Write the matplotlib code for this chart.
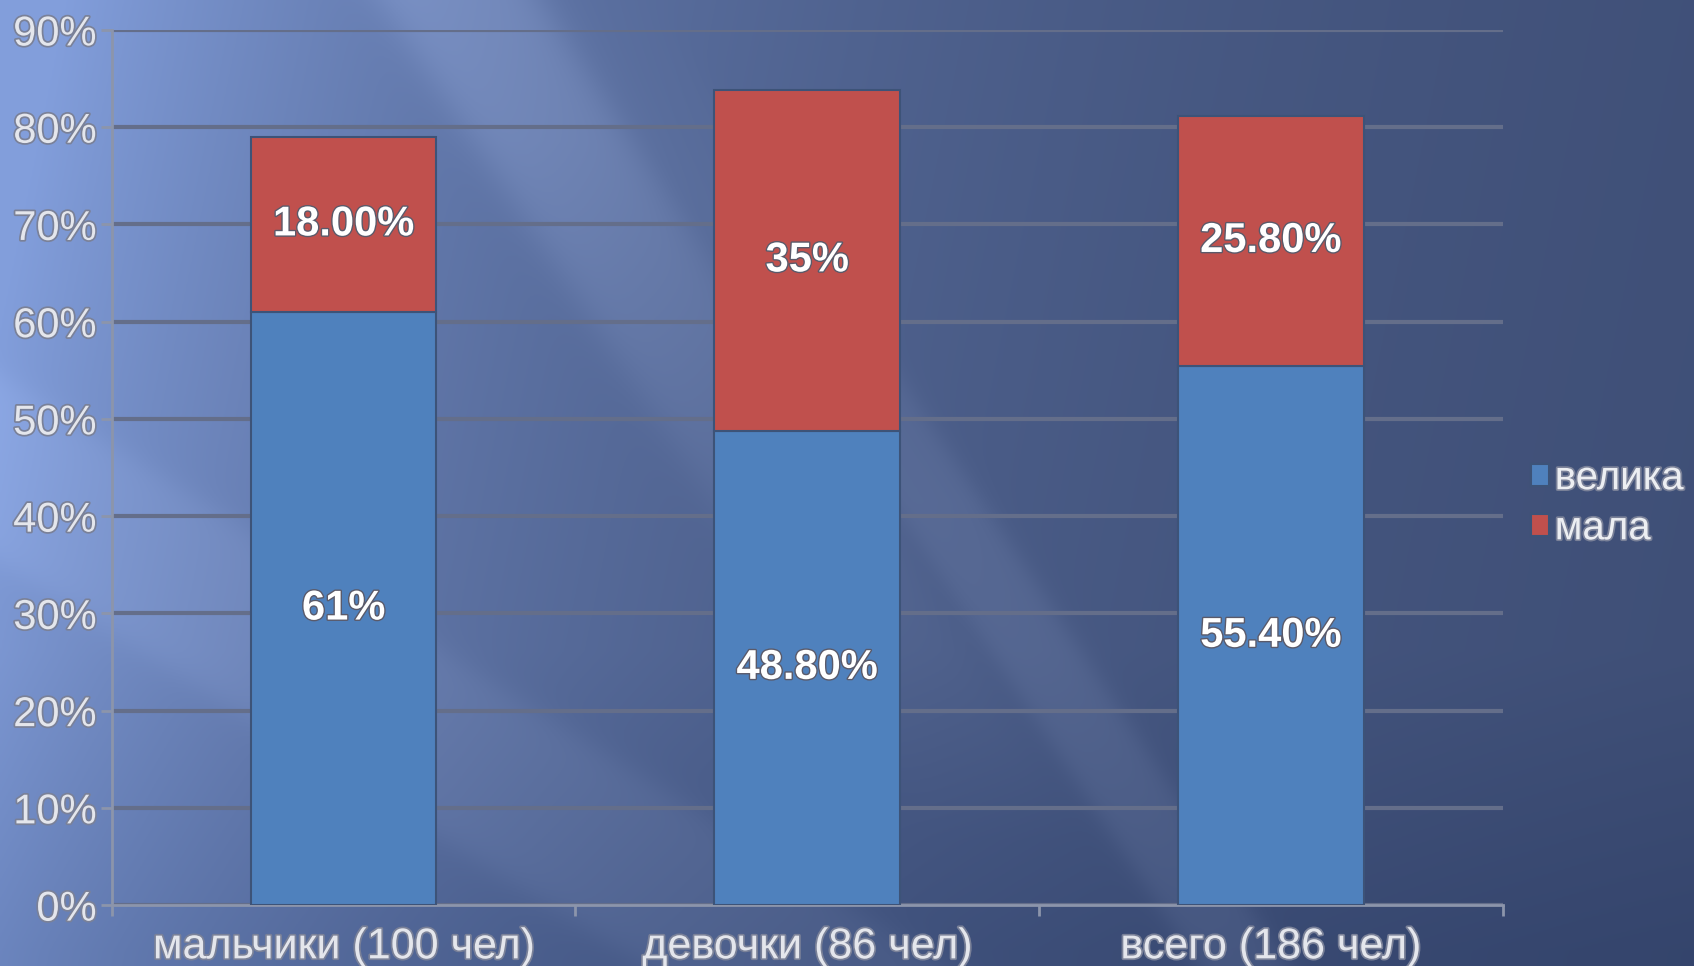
import numpy as np
import matplotlib.pyplot as plt
import matplotlib.patheffects as pe

categories = ['мальчики (100 чел)', 'девочки (86 чел)', 'всего (186 чел)']
velika = [61, 48.8, 55.4]
mala = [18, 35, 25.8]
velika_labels = ['61%', '48.80%', '55.40%']
mala_labels = ['18.00%', '35%', '25.80%']
yticks = list(range(0, 100, 10))

plt.rcParams['font.family'] = ['Liberation Sans', 'DejaVu Sans']

fig = plt.figure(figsize=(16.94, 9.66), dpi=100)

# background: light blue on the left fading to navy, with diagonal light streaks
bg = fig.add_axes([0, 0, 1, 1], zorder=-10)
h, w = 483, 847
yy, xx = np.mgrid[0:h, 0:w] * 2.0
t = np.clip(xx / 1694 * 1.3 + yy / 966 * 0.15 - 0.05, 0, 1.4)
t = 1 - np.exp(-2.0 * t)
light = np.array([0.51, 0.62, 0.86])
dark = np.array([0.23, 0.29, 0.44])
img = light[None, None, :] * (1 - t[..., None]) + dark[None, None, :] * t[..., None]


def band(d, lo, hi, soft):
    return 0.5 * (np.tanh((d - lo) / soft) - np.tanh((d - hi) / soft))


d1 = xx - yy * 0.66
img += 0.08 * band(d1, 380, 540, 25)[..., None] * np.clip(1.2 - yy / 700, 0, 1)[..., None]
img += 0.05 * band(d1, 560, 650, 15)[..., None] * np.clip(yy / 500, 0, 1)[..., None]
d2 = xx - yy * 1.6
img += 0.04 * band(d2, -900, -600, 30)[..., None]
img -= 0.04 * np.clip((yy - 650) / 300, 0, 1)[..., None]
img = np.clip(img, 0, 1)
bg.imshow(img, aspect='auto', extent=[0, 1, 0, 1], origin='upper')
bg.axis('off')

ax = fig.add_axes([0.066, 0.063, 0.821, 0.906])
ax.patch.set_alpha(0)

x = np.arange(len(categories))
b1 = ax.bar(x, velika, width=0.4, color='#4f81bd', edgecolor='#3d5378', linewidth=1.5, label='велика', zorder=3)
b2 = ax.bar(x, mala, width=0.4, bottom=velika, color='#c0504d', edgecolor='#3d5378', linewidth=1.5, label='мала', zorder=3)

ax.set_xlim(-0.5, 2.5)
ax.set_ylim(0, 90)
ax.set_yticks(yticks)
ax.set_yticklabels([f'{v}%' for v in yticks])
ax.set_xticks(x)
ax.set_xticklabels(categories)
ax.set_xticks([-0.5, 0.5, 1.5, 2.5], minor=True)

ax.yaxis.grid(True, color='#646e8a', linewidth=3, zorder=0)
ax.set_axisbelow(True)
for s in ['top', 'right']:
    ax.spines[s].set_visible(False)
for s in ['left', 'bottom']:
    ax.spines[s].set_color('#8c95ab')
    ax.spines[s].set_linewidth(2)

halo = [pe.withStroke(linewidth=2.5, foreground='#7a8198')]
ax.tick_params(axis='y', length=8, width=2, color='#8c95ab', pad=3, labelsize=30, labelcolor='#e4e6ec')
ax.tick_params(axis='x', which='major', length=0, pad=16, labelsize=31, labelcolor='#e4e6ec')
ax.tick_params(axis='x', which='minor', length=8, width=2, color='#8c95ab')
for lab in ax.get_yticklabels() + ax.get_xticklabels():
    lab.set_path_effects(halo)

shadow = [pe.withStroke(linewidth=2, foreground='#5a5a6a')]
for i in range(len(categories)):
    ax.text(x[i], velika[i] / 2, velika_labels[i], ha='center', va='center',
            color='white', fontsize=30, fontweight='bold', path_effects=shadow, zorder=5)
    ax.text(x[i], velika[i] + mala[i] / 2, mala_labels[i], ha='center', va='center',
            color='white', fontsize=30, fontweight='bold', path_effects=shadow, zorder=5)

leg = fig.legend(handles=[b1, b2], loc='center left', bbox_to_anchor=(0.894, 0.479),
                 frameon=False, fontsize=29, handlelength=0.45, handleheight=0.45,
                 handletextpad=0.15, labelspacing=0.3, borderaxespad=0)
for txt in leg.get_texts():
    txt.set_color('#eceef2')
    txt.set_path_effects(halo)

fig.savefig('out.png', dpi=100)
